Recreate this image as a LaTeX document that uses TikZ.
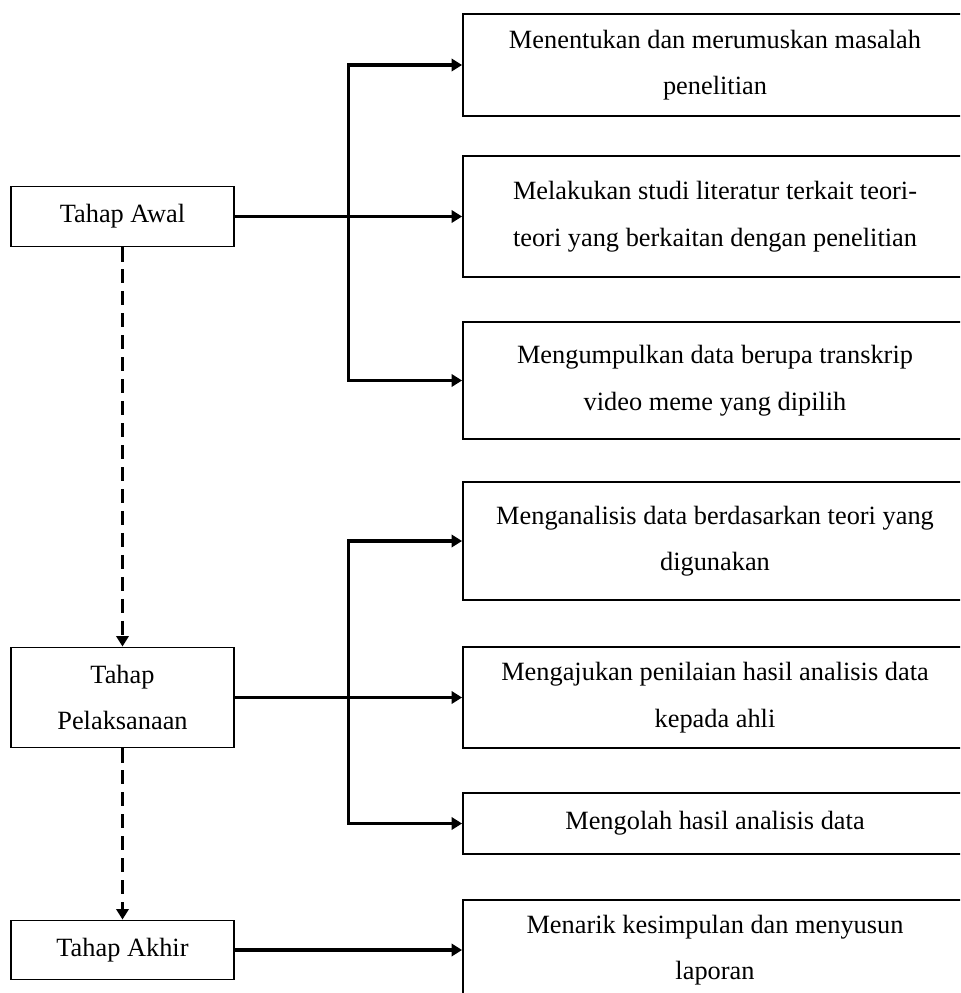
\documentclass[tikz,border=0pt]{standalone}
\usepackage{fontspec}
\setmainfont{Liberation Serif}
\usetikzlibrary{calc,arrows.meta,positioning}

\begin{document}
\begin{tikzpicture}[x=0.02cm, y=-0.02cm, >={Triangle[length=6pt,width=7pt]},
    every node/.style={font=\fontsize{15}{26.5}\selectfont},
    tahap/.style={draw, line width=1.1pt, minimum width=4.46cm, align=center, inner sep=0pt},
    kegiatan/.style={draw, line width=1.1pt, minimum width=10.08cm, align=center, inner sep=0pt},
    conn/.style={->, line width=1.8pt},
    alur/.style={->, line width=1.5pt, dash pattern=on 8pt off 4.5pt}]
  \useasboundingbox (0,0) rectangle (960,993);
  \clip (0,0) rectangle (960,993);
  \node[tahap, minimum height=1.2cm] (awal) at (122.5,216.5) {Tahap Awal};
  \node[tahap, minimum height=2cm] (pelaksanaan) at (122.5,697.5) {Tahap\\Pelaksanaan};
  \node[tahap, minimum height=1.18cm] (akhir) at (122.5,950) {Tahap Akhir};
  \node[kegiatan, minimum height=2.04cm] (a1) at (715,65) {Menentukan dan merumuskan masalah\\penelitian};
  \node[kegiatan, minimum height=2.42cm] (a2) at (715,216.5) {Melakukan studi literatur terkait teori-\\teori yang berkaitan dengan penelitian};
  \node[kegiatan, minimum height=2.34cm] (a3) at (715,380.5) {Mengumpulkan data berupa transkrip\\video meme yang dipilih};
  \node[kegiatan, minimum height=2.36cm] (b1) at (715,541) {Menganalisis data berdasarkan teori yang\\digunakan};
  \node[kegiatan, minimum height=2.02cm] (b2) at (715,697.5) {Mengajukan penilaian hasil analisis data\\kepada ahli};
  \node[kegiatan, minimum height=1.22cm] (b3) at (715,823.5) {Mengolah hasil analisis data};
  \node[kegiatan, minimum height=2cm] (c1) at (715,950) {Menarik kesimpulan dan menyusun\\laporan};
  \draw[alur] (awal.south) -- (pelaksanaan.north);
  \draw[alur] (pelaksanaan.south) -- (akhir.north);
  \coordinate (ta) at ($(awal.east)!.5!(a2.west)$);
  \coordinate (tb) at ($(pelaksanaan.east)!.5!(b2.west)$);
  \draw[conn] (awal.east) -- (a2.west);
  \draw[conn] (ta) |- (a1.west);
  \draw[conn] (ta) |- (a3.west);
  \draw[conn] (pelaksanaan.east) -- (b2.west);
  \draw[conn] (tb) |- (b1.west);
  \draw[conn] (tb) |- (b3.west);
  \draw[conn] (akhir.east) -- (c1.west);
\end{tikzpicture}
\end{document}
